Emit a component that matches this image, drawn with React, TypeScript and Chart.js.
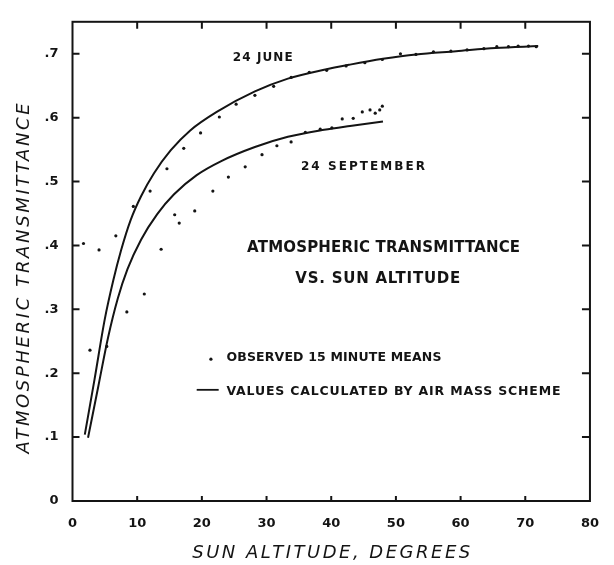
import { useEffect, useRef } from 'react';
import { Chart, registerables } from 'chart.js';

Chart.register(...registerables);

// Observed 15-minute means, 24 June (sun altitude in degrees, transmittance)
const juneObsAlt = [1.7, 4.1, 6.7, 9.4, 12.0, 14.6, 17.2, 19.8, 22.7, 25.3, 28.2, 31.1, 33.8, 36.6, 39.3, 42.3, 45.2, 47.9, 50.7, 53.1, 55.8, 58.5, 61.0, 63.6, 65.6, 67.4, 68.9, 70.5, 71.7];
const juneObsT = [0.403, 0.393, 0.415, 0.461, 0.485, 0.520, 0.552, 0.576, 0.601, 0.621, 0.635, 0.649, 0.663, 0.671, 0.674, 0.681, 0.686, 0.691, 0.700, 0.699, 0.703, 0.704, 0.706, 0.708, 0.711, 0.711, 0.712, 0.712, 0.711];

// Observed 15-minute means, 24 September
const septObsAlt = [2.7, 5.3, 8.4, 11.1, 13.7, 15.8, 16.5, 18.9, 21.7, 24.1, 26.7, 29.3, 31.6, 33.8, 36.0, 38.3, 40.1, 41.7, 43.4, 44.8, 46.0, 46.8, 47.5, 47.9];
const septObsT = [0.236, 0.242, 0.296, 0.324, 0.394, 0.448, 0.435, 0.454, 0.485, 0.507, 0.523, 0.542, 0.556, 0.562, 0.577, 0.582, 0.584, 0.598, 0.599, 0.609, 0.612, 0.607, 0.612, 0.618];

// Values calculated by the air mass scheme
const juneCalcAlt = [1.9, 3.4, 5.0, 6.3, 7.5, 9.0, 10.6, 12.6, 15.2, 18.2, 22.3, 28.2, 33.3, 38.9, 42.9, 48.0, 53.1, 59.3, 65.4, 72.0];
const juneCalcT = [0.104, 0.19, 0.285, 0.345, 0.392, 0.440, 0.477, 0.513, 0.549, 0.580, 0.609, 0.641, 0.661, 0.675, 0.683, 0.692, 0.699, 0.704, 0.709, 0.712];
const septCalcAlt = [2.4, 4.0, 5.5, 7.0, 8.5, 10.6, 13.1, 15.7, 19.2, 23.0, 28.2, 33.3, 38.9, 42.9, 48.0];
const septCalcT = [0.099, 0.18, 0.256, 0.317, 0.363, 0.409, 0.449, 0.480, 0.510, 0.532, 0.554, 0.570, 0.581, 0.587, 0.594];

const xTickValues = [0, 10, 20, 30, 40, 50, 60, 70, 80];
const yTickValues = [0, 0.1, 0.2, 0.3, 0.4, 0.5, 0.6, 0.7];
const yTickLabels = ['0', '.1', '.2', '.3', '.4', '.5', '.6', '.7'];

const pairs = (xs: number[], ys: number[]) => xs.map((x, i) => ({ x, y: ys[i] }));

const INK = '#141414';
const FACE = '"DejaVu Sans", "Noto Sans", sans-serif';
const CAP = 0.729;

// Draw text whose letters are spread out to fill a given width
function spaced(ctx: CanvasRenderingContext2D, text: string, x: number, capMidY: number, size: number, width: number, align: 'left' | 'center') {
  (ctx as any).letterSpacing = '0px';
  const w0 = ctx.measureText(text).width;
  const s = Math.max(0, (width - w0) / (text.length - 1));
  (ctx as any).letterSpacing = s + 'px';
  const w = w0 + s * (text.length - 1);
  ctx.textAlign = 'left';
  ctx.textBaseline = 'alphabetic';
  ctx.fillText(text, align === 'center' ? x - w / 2 : x, capMidY + (size * CAP) / 2);
  (ctx as any).letterSpacing = '0px';
}

type Note = { text: string; x: number; y: number; size: number; width: number; align: 'left' | 'center' };

const notes: Note[] = [
  { text: '24 JUNE', x: 29.4, y: 0.696, size: 12, width: 60, align: 'center' },
  { text: '24 SEPTEMBER', x: 44.9, y: 0.525, size: 12, width: 124, align: 'center' },
  { text: 'ATMOSPHERIC TRANSMITTANCE', x: 48.1, y: 0.398, size: 15, width: 273, align: 'center' },
  { text: 'VS. SUN ALTITUDE', x: 47.2, y: 0.350, size: 15, width: 165, align: 'center' },
  { text: 'OBSERVED 15 MINUTE MEANS', x: 23.8, y: 0.226, size: 12.5, width: 215, align: 'left' },
  { text: 'VALUES CALCULATED BY AIR MASS SCHEME', x: 23.8, y: 0.173, size: 12.5, width: 334, align: 'left' },
];

const framePlugin = {
  id: 'frameAndNotes',
  afterDraw(chart: any) {
    const { ctx, chartArea: a, scales } = chart;
    const xs = scales.x;
    const ys = scales.y;
    ctx.save();
    ctx.strokeStyle = INK;
    ctx.fillStyle = INK;
    ctx.lineWidth = 2;
    ctx.strokeRect(a.left, a.top, a.right - a.left, a.bottom - a.top);

    // inward tick marks on all four sides
    ctx.beginPath();
    xs.ticks.forEach((t: any) => {
      if (t.value <= xs.min || t.value >= xs.max) return;
      const px = xs.getPixelForValue(t.value);
      ctx.moveTo(px, a.bottom);
      ctx.lineTo(px, a.bottom - 5);
      ctx.moveTo(px, a.top);
      ctx.lineTo(px, a.top + 7);
    });
    ys.ticks.forEach((t: any) => {
      if (t.value <= ys.min) return;
      const py = ys.getPixelForValue(t.value);
      ctx.moveTo(a.left, py);
      ctx.lineTo(a.left + 7, py);
      ctx.moveTo(a.right, py);
      ctx.lineTo(a.right - 8, py);
    });
    ctx.stroke();

    // annotations inside the plot
    notes.forEach((n) => {
      ctx.font = `bold ${n.size}px ${FACE}`;
      spaced(ctx, n.text, xs.getPixelForValue(n.x), ys.getPixelForValue(n.y), n.size, n.width, n.align);
    });

    // legend symbols
    const dx = xs.getPixelForValue(21.4);
    const dy = ys.getPixelForValue(0.222);
    ctx.beginPath();
    ctx.arc(dx, dy, 1.6, 0, Math.PI * 2);
    ctx.fill();
    ctx.beginPath();
    ctx.lineWidth = 1.8;
    ctx.moveTo(xs.getPixelForValue(19.2), ys.getPixelForValue(0.174));
    ctx.lineTo(xs.getPixelForValue(22.6), ys.getPixelForValue(0.174));
    ctx.stroke();

    // axis titles
    const tSize = 18;
    ctx.font = `italic ${tSize}px ${FACE}`;
    spaced(ctx, 'SUN ALTITUDE, DEGREES', (a.left + a.right) / 2, a.bottom + 50, tSize, 278, 'center');
    ctx.save();
    ctx.translate(a.left - 50, (a.top + a.bottom) / 2 + 17);
    ctx.rotate(-Math.PI / 2);
    spaced(ctx, 'ATMOSPHERIC TRANSMITTANCE', 0, 0, tSize, 350, 'center');
    ctx.restore();
    ctx.restore();
  },
};

export default function App() {
  const ref = useRef<HTMLCanvasElement | null>(null);

  useEffect(() => {
    if (!ref.current) return;
    const chart = new Chart(ref.current, {
      type: 'line',
      data: {
        datasets: [
          {
            label: '24 June calculated',
            data: pairs(juneCalcAlt, juneCalcT),
            borderColor: INK,
            borderWidth: 2,
            pointRadius: 0,
            cubicInterpolationMode: 'monotone',
            fill: false,
          },
          {
            label: '24 September calculated',
            data: pairs(septCalcAlt, septCalcT),
            borderColor: INK,
            borderWidth: 2,
            pointRadius: 0,
            cubicInterpolationMode: 'monotone',
            fill: false,
          },
          {
            label: '24 June observed',
            data: pairs(juneObsAlt, juneObsT),
            showLine: false,
            pointRadius: 1.6,
            pointBackgroundColor: INK,
            pointBorderWidth: 0,
          },
          {
            label: '24 September observed',
            data: pairs(septObsAlt, septObsT),
            showLine: false,
            pointRadius: 1.6,
            pointBackgroundColor: INK,
            pointBorderWidth: 0,
          },
        ],
      },
      options: {
        animation: false,
        responsive: false,
        devicePixelRatio: 1,
        layout: { padding: { left: 0, right: 19, top: 9, bottom: 0 } },
        plugins: { legend: { display: false }, tooltip: { enabled: false } },
        scales: {
          x: {
            type: 'linear',
            min: 0,
            max: 80,
            afterFit: (s: any) => { s.height = 64; },
            afterBuildTicks: (s: any) => { s.ticks = xTickValues.map((v) => ({ value: v })); },
            grid: { display: false, drawTicks: false },
            border: { display: false },
            ticks: {
              padding: 15,
              color: INK,
              font: { family: FACE, size: 13, weight: 'bold' },
              maxRotation: 0,
              callback: (v: any) => String(v),
            },
          },
          y: {
            type: 'linear',
            min: 0,
            max: 0.75,
            afterFit: (s: any) => { s.width = 72.5; },
            afterBuildTicks: (s: any) => { s.ticks = yTickValues.map((v) => ({ value: v })); },
            grid: { display: false, drawTicks: false },
            border: { display: false },
            ticks: {
              padding: 14,
              color: INK,
              font: { family: FACE, size: 13, weight: 'bold' },
              callback: (v: any) => {
                const i = yTickValues.findIndex((t) => Math.abs(t - v) < 1e-6);
                return i >= 0 ? yTickLabels[i] : '';
              },
            },
          },
        },
      },
      plugins: [framePlugin],
    } as any);
    return () => chart.destroy();
  }, []);

  return (
    <div style={{ position: 'absolute', left: 0, top: 0, width: 614, height: 565, background: '#fff' }}>
      <canvas ref={ref} width={614} height={565} />
    </div>
  );
}
